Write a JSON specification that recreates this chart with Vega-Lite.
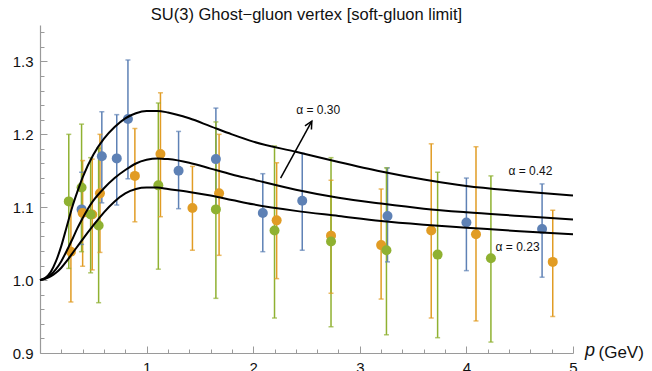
{
  "$schema": "https://vega.github.io/schema/vega-lite/v6.json",
  "width": 533,
  "height": 328,
  "autosize": "none",
  "padding": {"left": 40, "top": 25, "right": 79, "bottom": 18},
  "background": "white",
  "config": {"view": {"stroke": null}, "font": "Liberation Sans"},
  "title": {"text": "SU(3) Ghost\u2212gluon vertex [soft-gluon limit]", "fontSize": 16.5, "fontWeight": "normal", "font": "Liberation Sans", "color": "#111", "offset": 2, "anchor": "middle"},
  "datasets": {
    "pts": [
      {"s": "b", "p": 0.39, "y": 1.097, "lo": 1.049, "hi": 1.148},
      {"s": "b", "p": 0.58, "y": 1.170, "lo": 1.106, "hi": 1.231},
      {"s": "b", "p": 0.72, "y": 1.167, "lo": 1.103, "hi": 1.227},
      {"s": "b", "p": 0.825, "y": 1.221, "lo": 1.139, "hi": 1.302},
      {"s": "b", "p": 1.30, "y": 1.150, "lo": 1.098, "hi": 1.204},
      {"s": "b", "p": 1.65, "y": 1.166, "lo": 1.097, "hi": 1.236},
      {"s": "b", "p": 2.09, "y": 1.092, "lo": 1.039, "hi": 1.146},
      {"s": "b", "p": 2.46, "y": 1.109, "lo": 1.041, "hi": 1.174},
      {"s": "b", "p": 3.26, "y": 1.088, "lo": 1.025, "hi": 1.154},
      {"s": "b", "p": 4.00, "y": 1.079, "lo": 1.013, "hi": 1.140},
      {"s": "b", "p": 4.71, "y": 1.070, "lo": 1.004, "hi": 1.132},
      {"s": "o", "p": 0.29, "y": 1.039, "lo": 0.970, "hi": 1.108},
      {"s": "o", "p": 0.40, "y": 1.092, "lo": 1.019, "hi": 1.164},
      {"s": "o", "p": 0.49, "y": 1.090, "lo": 1.014, "hi": 1.166},
      {"s": "o", "p": 0.5625, "y": 1.119, "lo": 1.038, "hi": 1.200},
      {"s": "o", "p": 0.89, "y": 1.143, "lo": 1.080, "hi": 1.208},
      {"s": "o", "p": 1.13, "y": 1.173, "lo": 1.087, "hi": 1.257},
      {"s": "o", "p": 1.43, "y": 1.099, "lo": 1.041, "hi": 1.156},
      {"s": "o", "p": 1.68, "y": 1.119, "lo": 1.034, "hi": 1.200},
      {"s": "o", "p": 2.22, "y": 1.082, "lo": 1.002, "hi": 1.161},
      {"s": "o", "p": 2.73, "y": 1.061, "lo": 0.982, "hi": 1.137},
      {"s": "o", "p": 3.20, "y": 1.048, "lo": 0.974, "hi": 1.125},
      {"s": "o", "p": 3.67, "y": 1.068, "lo": 0.948, "hi": 1.187},
      {"s": "o", "p": 4.09, "y": 1.063, "lo": 0.944, "hi": 1.183},
      {"s": "o", "p": 4.81, "y": 1.025, "lo": 0.950, "hi": 1.096},
      {"s": "g", "p": 0.27, "y": 1.108, "lo": 1.016, "hi": 1.200},
      {"s": "g", "p": 0.39, "y": 1.127, "lo": 1.039, "hi": 1.214},
      {"s": "g", "p": 0.475, "y": 1.090, "lo": 1.010, "hi": 1.168},
      {"s": "g", "p": 0.55, "y": 1.075, "lo": 0.969, "hi": 1.181},
      {"s": "g", "p": 1.11, "y": 1.130, "lo": 1.015, "hi": 1.243},
      {"s": "g", "p": 1.65, "y": 1.097, "lo": 0.975, "hi": 1.217},
      {"s": "g", "p": 2.20, "y": 1.068, "lo": 0.948, "hi": 1.184},
      {"s": "g", "p": 2.73, "y": 1.053, "lo": 0.936, "hi": 1.168},
      {"s": "g", "p": 3.25, "y": 1.041, "lo": 0.925, "hi": 1.154},
      {"s": "g", "p": 3.73, "y": 1.035, "lo": 0.921, "hi": 1.148},
      {"s": "g", "p": 4.23, "y": 1.030, "lo": 0.915, "hi": 1.143}
    ],
    "curves": [
      {"a": "0.42", "p": 0, "y": 1.000}, {"a": "0.42", "p": 0.05, "y": 1.003}, {"a": "0.42", "p": 0.1, "y": 1.011}, {"a": "0.42", "p": 0.15, "y": 1.026}, {"a": "0.42", "p": 0.2, "y": 1.047}, {"a": "0.42", "p": 0.25, "y": 1.073}, {"a": "0.42", "p": 0.3, "y": 1.099}, {"a": "0.42", "p": 0.35, "y": 1.121}, {"a": "0.42", "p": 0.4, "y": 1.141}, {"a": "0.42", "p": 0.5, "y": 1.172}, {"a": "0.42", "p": 0.6, "y": 1.194}, {"a": "0.42", "p": 0.7, "y": 1.210}, {"a": "0.42", "p": 0.8, "y": 1.222}, {"a": "0.42", "p": 0.9, "y": 1.229}, {"a": "0.42", "p": 1.0, "y": 1.232}, {"a": "0.42", "p": 1.1, "y": 1.232}, {"a": "0.42", "p": 1.2, "y": 1.230}, {"a": "0.42", "p": 1.4, "y": 1.222}, {"a": "0.42", "p": 1.6, "y": 1.211}, {"a": "0.42", "p": 1.8, "y": 1.200}, {"a": "0.42", "p": 2.0, "y": 1.190}, {"a": "0.42", "p": 2.4, "y": 1.176}, {"a": "0.42", "p": 2.8, "y": 1.162}, {"a": "0.42", "p": 3.2, "y": 1.149}, {"a": "0.42", "p": 3.6, "y": 1.138}, {"a": "0.42", "p": 4.0, "y": 1.129}, {"a": "0.42", "p": 4.5, "y": 1.122}, {"a": "0.42", "p": 5.0, "y": 1.116},
      {"a": "0.30", "p": 0, "y": 1.000}, {"a": "0.30", "p": 0.05, "y": 1.002}, {"a": "0.30", "p": 0.1, "y": 1.007}, {"a": "0.30", "p": 0.15, "y": 1.015}, {"a": "0.30", "p": 0.2, "y": 1.026}, {"a": "0.30", "p": 0.25, "y": 1.040}, {"a": "0.30", "p": 0.3, "y": 1.055}, {"a": "0.30", "p": 0.35, "y": 1.071}, {"a": "0.30", "p": 0.4, "y": 1.085}, {"a": "0.30", "p": 0.45, "y": 1.098}, {"a": "0.30", "p": 0.5, "y": 1.109}, {"a": "0.30", "p": 0.6, "y": 1.126}, {"a": "0.30", "p": 0.7, "y": 1.140}, {"a": "0.30", "p": 0.8, "y": 1.151}, {"a": "0.30", "p": 0.9, "y": 1.160}, {"a": "0.30", "p": 1.0, "y": 1.165}, {"a": "0.30", "p": 1.1, "y": 1.167}, {"a": "0.30", "p": 1.2, "y": 1.166}, {"a": "0.30", "p": 1.4, "y": 1.161}, {"a": "0.30", "p": 1.6, "y": 1.153}, {"a": "0.30", "p": 1.8, "y": 1.145}, {"a": "0.30", "p": 2.0, "y": 1.138}, {"a": "0.30", "p": 2.4, "y": 1.124}, {"a": "0.30", "p": 2.8, "y": 1.113}, {"a": "0.30", "p": 3.2, "y": 1.105}, {"a": "0.30", "p": 3.6, "y": 1.098}, {"a": "0.30", "p": 4.0, "y": 1.093}, {"a": "0.30", "p": 4.5, "y": 1.088}, {"a": "0.30", "p": 5.0, "y": 1.083},
      {"a": "0.23", "p": 0, "y": 1.000}, {"a": "0.23", "p": 0.1, "y": 1.005}, {"a": "0.23", "p": 0.15, "y": 1.010}, {"a": "0.23", "p": 0.2, "y": 1.017}, {"a": "0.23", "p": 0.25, "y": 1.026}, {"a": "0.23", "p": 0.3, "y": 1.036}, {"a": "0.23", "p": 0.4, "y": 1.056}, {"a": "0.23", "p": 0.5, "y": 1.075}, {"a": "0.23", "p": 0.6, "y": 1.093}, {"a": "0.23", "p": 0.7, "y": 1.108}, {"a": "0.23", "p": 0.8, "y": 1.119}, {"a": "0.23", "p": 0.9, "y": 1.125}, {"a": "0.23", "p": 1.0, "y": 1.127}, {"a": "0.23", "p": 1.1, "y": 1.127}, {"a": "0.23", "p": 1.2, "y": 1.125}, {"a": "0.23", "p": 1.4, "y": 1.121}, {"a": "0.23", "p": 1.6, "y": 1.116}, {"a": "0.23", "p": 1.8, "y": 1.110}, {"a": "0.23", "p": 2.0, "y": 1.104}, {"a": "0.23", "p": 2.4, "y": 1.095}, {"a": "0.23", "p": 2.8, "y": 1.088}, {"a": "0.23", "p": 3.2, "y": 1.081}, {"a": "0.23", "p": 3.6, "y": 1.076}, {"a": "0.23", "p": 4.0, "y": 1.072}, {"a": "0.23", "p": 4.5, "y": 1.067}, {"a": "0.23", "p": 5.0, "y": 1.063}
    ],
    "labels": [
      {"t": "\u03b1 = 0.30", "p": 2.61, "y": 1.234},
      {"t": "\u03b1 = 0.42", "p": 4.60, "y": 1.150},
      {"t": "\u03b1 = 0.23", "p": 4.48, "y": 1.045}
    ]
  },
  "encoding": {
    "x": {"type": "quantitative", "scale": {"domain": [0, 5], "nice": false, "zero": false},
      "axis": {
        "title": "(GeV)", "titleX": 558, "titleY": -1, "titleAlign": "left", "titleBaseline": "middle", "titleFontSize": 17, "titleFontWeight": "normal", "titleColor": "#111", "titleFont": "Liberation Sans",
        "values": [0.2,0.4,0.6,0.8,1,1.2,1.4,1.6,1.8,2,2.2,2.4,2.6,2.8,3,3.2,3.4,3.6,3.8,4,4.2,4.4,4.6,4.8,5],
        "labelExpr": "abs(datum.value - round(datum.value)) < 0.001 ? format(datum.value, 'd') : ''",
        "tickSize": {"condition": {"test": "abs(datum.value - round(datum.value)) < 0.001", "value": -7}, "value": -4},
        "labelPadding": 14, "labelFontSize": 15, "labelColor": "#111", "labelFont": "Liberation Sans",
        "domainColor": "#9a9a9a", "tickColor": "#9a9a9a", "domainWidth": 1.2, "tickWidth": 1, "grid": false, "labelFlush": false, "labelOverlap": false
      }
    },
    "y": {"type": "quantitative", "scale": {"domain": [0.9, 1.35], "nice": false, "zero": false},
      "axis": {
        "title": null,
        "values": [0.9,0.92,0.94,0.96,0.98,1.0,1.02,1.04,1.06,1.08,1.1,1.12,1.14,1.16,1.18,1.2,1.22,1.24,1.26,1.28,1.3,1.32,1.34],
        "labelExpr": "abs(datum.value*10 - round(datum.value*10)) < 0.001 ? format(datum.value, '.1f') : ''",
        "tickSize": {"condition": {"test": "abs(datum.value*10 - round(datum.value*10)) < 0.001", "value": -7}, "value": -4},
        "labelPadding": 14, "labelFontSize": 15, "labelColor": "#111", "labelFont": "Liberation Sans",
        "domainColor": "#9a9a9a", "tickColor": "#9a9a9a", "domainWidth": 1.2, "tickWidth": 1, "grid": false, "labelFlush": false, "labelOverlap": false
      }
    }
  },
  "layer": [
    {
      "data": {"name": "pts"},
      "mark": {"type": "rule", "strokeWidth": 1.5},
      "encoding": {
        "x": {"field": "p", "type": "quantitative"},
        "y": {"field": "lo", "type": "quantitative"},
        "y2": {"field": "hi"},
        "color": {"field": "s", "type": "nominal", "scale": {"domain": ["b", "o", "g"], "range": ["#5E81B5", "#E19C24", "#8FB131"]}, "legend": null}
      }
    },
    {
      "data": {"name": "pts"},
      "mark": {"type": "tick", "orient": "horizontal", "size": 5, "thickness": 1.5},
      "encoding": {
        "x": {"field": "p", "type": "quantitative"},
        "y": {"field": "hi", "type": "quantitative"},
        "color": {"field": "s", "type": "nominal", "legend": null}
      }
    },
    {
      "data": {"name": "pts"},
      "mark": {"type": "tick", "orient": "horizontal", "size": 5, "thickness": 1.5},
      "encoding": {
        "x": {"field": "p", "type": "quantitative"},
        "y": {"field": "lo", "type": "quantitative"},
        "color": {"field": "s", "type": "nominal", "legend": null}
      }
    },
    {
      "data": {"name": "pts"},
      "mark": {"type": "circle", "size": 100, "opacity": 1},
      "encoding": {
        "x": {"field": "p", "type": "quantitative"},
        "y": {"field": "y", "type": "quantitative"},
        "color": {"field": "s", "type": "nominal", "legend": null}
      }
    },
    {
      "data": {"name": "curves"},
      "mark": {"type": "line", "color": "black", "strokeWidth": 2, "interpolate": "monotone"},
      "encoding": {
        "x": {"field": "p", "type": "quantitative"},
        "y": {"field": "y", "type": "quantitative"},
        "detail": {"field": "a", "type": "nominal"}
      }
    },
    {
      "data": {"values": [{}]},
      "mark": {"type": "rule", "color": "black", "strokeWidth": 1.5},
      "encoding": {
        "x": {"datum": 2.257}, "y": {"datum": 1.140},
        "x2": {"datum": 2.55}, "y2": {"datum": 1.218}
      }
    },
    {
      "data": {"values": [{}]},
      "mark": {"type": "point", "shape": "M-0.5,1L0,0L0.5,1", "size": 220, "angle": 29.4, "filled": false, "stroke": "black", "strokeWidth": 1.5, "opacity": 1},
      "encoding": {
        "x": {"datum": 2.55}, "y": {"datum": 1.218}
      }
    },
    {
      "data": {"name": "labels"},
      "mark": {"type": "text", "fontSize": 12, "font": "Liberation Sans", "color": "#111", "align": "center", "baseline": "middle"},
      "encoding": {
        "x": {"field": "p", "type": "quantitative"},
        "y": {"field": "y", "type": "quantitative"},
        "text": {"field": "t"}
      }
    },
    {
      "data": {"values": [{}]},
      "mark": {"type": "text", "text": "p", "fontSize": 18, "fontStyle": "italic", "font": "Liberation Sans", "color": "#111", "align": "left", "baseline": "middle", "dx": 12, "dy": -2},
      "encoding": {
        "x": {"datum": 5}, "y": {"datum": 0.9}
      }
    }
  ]
}
